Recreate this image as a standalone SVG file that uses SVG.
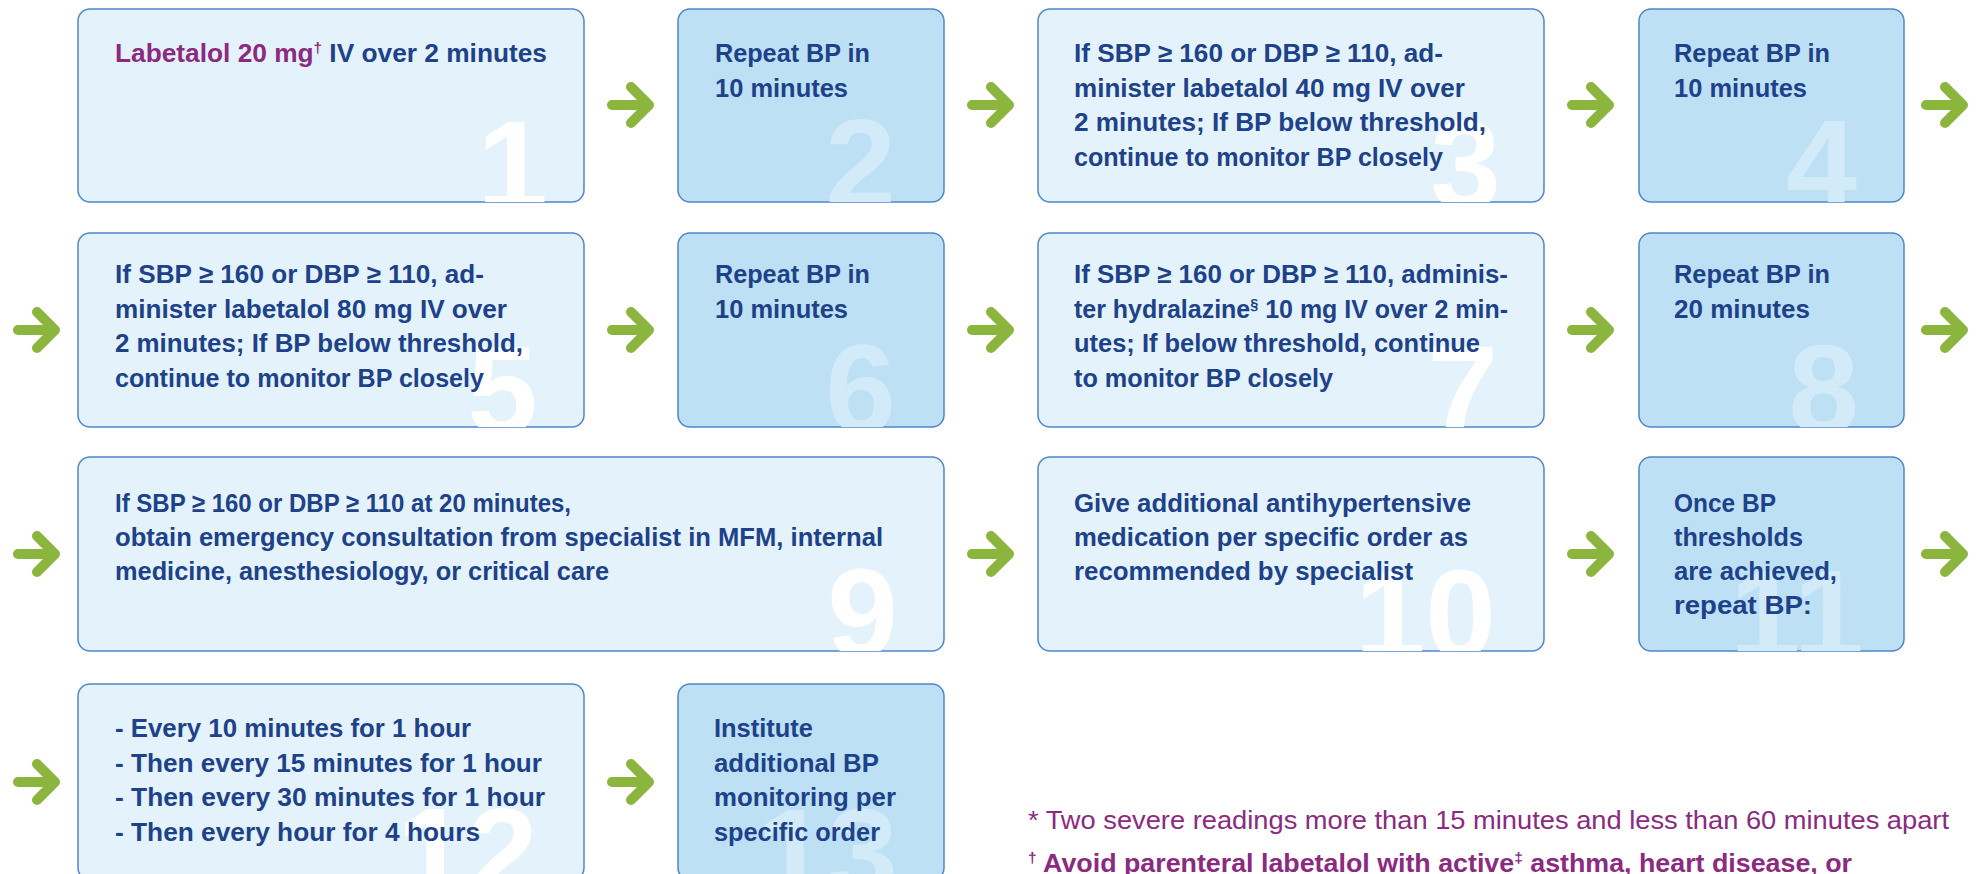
<svg xmlns="http://www.w3.org/2000/svg" width="1981" height="874" viewBox="0 0 1981 874">
<style>
.bl{fill:#e4f2fb;stroke:#4f86c8;stroke-width:1.5}
.bd{fill:#bde0f5;stroke:#4f86c8;stroke-width:1.5}
.t{font-family:"Liberation Sans",Arial,sans-serif;font-weight:bold;font-size:26px;fill:#1d4289}
.n{font-family:"Liberation Sans",Arial,sans-serif;font-weight:bold;font-size:127px;text-anchor:end}
.nl{fill:#ffffff}
.nd{fill:#d3eaf8}
.p{fill:#8b2a80}
.sup{font-size:15px}
.fn{font-family:"Liberation Sans",Arial,sans-serif;font-size:26px;fill:#8b2a80}
.arr{fill:none;stroke:#8cb53d;stroke-width:10;stroke-linecap:round;stroke-linejoin:round}
</style>
<defs>
<path id="arrow" class="arr" d="M-19,0 H18 M0,-18 L18,0 L0,18"/>
<clipPath id="c1"><rect x="78" y="9" width="506" height="193" rx="12"/></clipPath>
<clipPath id="c2"><rect x="678" y="9" width="266" height="193" rx="12"/></clipPath>
<clipPath id="c3"><rect x="1038" y="9" width="506" height="193" rx="12"/></clipPath>
<clipPath id="c4"><rect x="1639" y="9" width="265" height="193" rx="12"/></clipPath>
<clipPath id="c5"><rect x="78" y="233" width="506" height="194" rx="12"/></clipPath>
<clipPath id="c6"><rect x="678" y="233" width="266" height="194" rx="12"/></clipPath>
<clipPath id="c7"><rect x="1038" y="233" width="506" height="194" rx="12"/></clipPath>
<clipPath id="c8"><rect x="1639" y="233" width="265" height="194" rx="12"/></clipPath>
<clipPath id="c9"><rect x="78" y="457" width="866" height="194" rx="12"/></clipPath>
<clipPath id="c10"><rect x="1038" y="457" width="506" height="194" rx="12"/></clipPath>
<clipPath id="c11"><rect x="1639" y="457" width="265" height="194" rx="12"/></clipPath>
<clipPath id="c12"><rect x="78" y="684" width="506" height="196" rx="12"/></clipPath>
<clipPath id="c13"><rect x="678" y="684" width="266" height="196" rx="12"/></clipPath>
</defs>
<rect width="1981" height="874" fill="#ffffff"/>

<g id="connectors">
<use href="#arrow" x="631" y="105"/>
<use href="#arrow" x="991" y="105"/>
<use href="#arrow" x="1591" y="105"/>
<use href="#arrow" x="1945" y="105"/>
<use href="#arrow" x="37" y="330"/>
<use href="#arrow" x="631" y="330"/>
<use href="#arrow" x="991" y="330"/>
<use href="#arrow" x="1591" y="330"/>
<use href="#arrow" x="1945" y="330"/>
<use href="#arrow" x="37" y="554"/>
<use href="#arrow" x="991" y="554"/>
<use href="#arrow" x="1591" y="554"/>
<use href="#arrow" x="1945" y="554"/>
<use href="#arrow" x="37" y="782"/>
<use href="#arrow" x="631" y="782"/>
</g>

<g id="step1">
<rect class="bl" x="78" y="9" width="506" height="193" rx="12"/>
<text class="n nl" x="548" y="209" clip-path="url(#c1)">1</text>
<text class="t" x="115" y="62" textLength="432" lengthAdjust="spacingAndGlyphs"><tspan class="p">Labetalol 20 mg</tspan><tspan class="p sup" dy="-9">†</tspan><tspan dy="9"> IV over 2 minutes</tspan></text>
</g>

<g id="step2">
<rect class="bd" x="678" y="9" width="266" height="193" rx="12"/>
<text class="n nd" x="896" y="207" clip-path="url(#c2)">2</text>
<text class="t" x="715" y="62" textLength="155" lengthAdjust="spacingAndGlyphs">Repeat BP in</text>
<text class="t" x="715" y="96.5" textLength="133" lengthAdjust="spacingAndGlyphs">10 minutes</text>
</g>

<g id="step3">
<rect class="bl" x="1038" y="9" width="506" height="193" rx="12"/>
<text class="n nl" x="1501" y="209" clip-path="url(#c3)">3</text>
<text class="t" x="1074" y="62" textLength="369" lengthAdjust="spacingAndGlyphs">If SBP ≥ 160 or DBP ≥ 110, ad-</text>
<text class="t" x="1074" y="96.5" textLength="391" lengthAdjust="spacingAndGlyphs">minister labetalol 40 mg IV over</text>
<text class="t" x="1074" y="131" textLength="412" lengthAdjust="spacingAndGlyphs">2 minutes; If BP below threshold,</text>
<text class="t" x="1074" y="165.5" textLength="369" lengthAdjust="spacingAndGlyphs">continue to monitor BP closely</text>
</g>

<g id="step4">
<rect class="bd" x="1639" y="9" width="265" height="193" rx="12"/>
<text class="n nd" x="1857" y="208" clip-path="url(#c4)">4</text>
<text class="t" x="1674" y="62" textLength="156" lengthAdjust="spacingAndGlyphs">Repeat BP in</text>
<text class="t" x="1674" y="96.5" textLength="133" lengthAdjust="spacingAndGlyphs">10 minutes</text>
</g>

<g id="step5">
<rect class="bl" x="78" y="233" width="506" height="194" rx="12"/>
<text class="n nl" x="538" y="434" clip-path="url(#c5)">5</text>
<text class="t" x="115" y="283" textLength="369" lengthAdjust="spacingAndGlyphs">If SBP ≥ 160 or DBP ≥ 110, ad-</text>
<text class="t" x="115" y="317.5" textLength="392" lengthAdjust="spacingAndGlyphs">minister labetalol 80 mg IV over</text>
<text class="t" x="115" y="352" textLength="408" lengthAdjust="spacingAndGlyphs">2 minutes; If BP below threshold,</text>
<text class="t" x="115" y="386.5" textLength="369" lengthAdjust="spacingAndGlyphs">continue to monitor BP closely</text>
</g>

<g id="step6">
<rect class="bd" x="678" y="233" width="266" height="194" rx="12"/>
<text class="n nd" x="896" y="433" clip-path="url(#c6)">6</text>
<text class="t" x="715" y="283" textLength="155" lengthAdjust="spacingAndGlyphs">Repeat BP in</text>
<text class="t" x="715" y="317.5" textLength="133" lengthAdjust="spacingAndGlyphs">10 minutes</text>
</g>

<g id="step7">
<rect class="bl" x="1038" y="233" width="506" height="194" rx="12"/>
<text class="n nl" x="1498" y="434" clip-path="url(#c7)">7</text>
<text class="t" x="1074" y="283" textLength="434" lengthAdjust="spacingAndGlyphs">If SBP ≥ 160 or DBP ≥ 110, adminis-</text>
<text class="t" x="1074" y="317.5" textLength="434" lengthAdjust="spacingAndGlyphs">ter hydralazine<tspan class="sup" dy="-9">§</tspan><tspan dy="9"> 10 mg IV over 2 min-</tspan></text>
<text class="t" x="1074" y="352" textLength="406" lengthAdjust="spacingAndGlyphs">utes; If below threshold, continue</text>
<text class="t" x="1074" y="386.5" textLength="259" lengthAdjust="spacingAndGlyphs">to monitor BP closely</text>
</g>

<g id="step8">
<rect class="bd" x="1639" y="233" width="265" height="194" rx="12"/>
<text class="n nd" x="1859" y="433" clip-path="url(#c8)">8</text>
<text class="t" x="1674" y="283" textLength="156" lengthAdjust="spacingAndGlyphs">Repeat BP in</text>
<text class="t" x="1674" y="317.5" textLength="136" lengthAdjust="spacingAndGlyphs">20 minutes</text>
</g>

<g id="step9">
<rect class="bl" x="78" y="457" width="866" height="194" rx="12"/>
<text class="n nl" x="898" y="657" clip-path="url(#c9)">9</text>
<text class="t" x="115" y="512" textLength="456" lengthAdjust="spacingAndGlyphs">If SBP ≥ 160 or DBP ≥ 110 at 20 minutes,</text>
<text class="t" x="115" y="546" textLength="768" lengthAdjust="spacingAndGlyphs">obtain emergency consultation from specialist in MFM, internal</text>
<text class="t" x="115" y="580" textLength="494" lengthAdjust="spacingAndGlyphs">medicine, anesthesiology, or critical care</text>
</g>

<g id="step10">
<rect class="bl" x="1038" y="457" width="506" height="194" rx="12"/>
<text class="n nl" x="1496" y="658" clip-path="url(#c10)">10</text>
<text class="t" x="1074" y="512" textLength="397" lengthAdjust="spacingAndGlyphs">Give additional antihypertensive</text>
<text class="t" x="1074" y="546" textLength="394" lengthAdjust="spacingAndGlyphs">medication per specific order as</text>
<text class="t" x="1074" y="580" textLength="339" lengthAdjust="spacingAndGlyphs">recommended by specialist</text>
</g>

<g id="step11">
<rect class="bd" x="1639" y="457" width="265" height="194" rx="12"/>
<text class="n nd" x="1864" y="658" clip-path="url(#c11)">11</text>
<text class="t" x="1674" y="512" textLength="102" lengthAdjust="spacingAndGlyphs">Once BP</text>
<text class="t" x="1674" y="546" textLength="129" lengthAdjust="spacingAndGlyphs">thresholds</text>
<text class="t" x="1674" y="580" textLength="163" lengthAdjust="spacingAndGlyphs">are achieved,</text>
<text class="t" x="1674" y="614" textLength="138" lengthAdjust="spacingAndGlyphs">repeat BP:</text>
</g>

<g id="step12">
<rect class="bl" x="78" y="684" width="506" height="196" rx="12"/>
<text class="n nl" x="538" y="896" clip-path="url(#c12)">12</text>
<text class="t" x="115" y="737" textLength="356" lengthAdjust="spacingAndGlyphs">- Every 10 minutes for 1 hour</text>
<text class="t" x="115" y="771.5" textLength="427" lengthAdjust="spacingAndGlyphs">- Then every 15 minutes for 1 hour</text>
<text class="t" x="115" y="806" textLength="430" lengthAdjust="spacingAndGlyphs">- Then every 30 minutes for 1 hour</text>
<text class="t" x="115" y="840.5" textLength="365" lengthAdjust="spacingAndGlyphs">- Then every hour for 4 hours</text>
</g>

<g id="step13">
<rect class="bd" x="678" y="684" width="266" height="196" rx="12"/>
<text class="n nd" x="898" y="897" clip-path="url(#c13)">13</text>
<text class="t" x="714" y="737" textLength="99" lengthAdjust="spacingAndGlyphs">Institute</text>
<text class="t" x="714" y="771.5" textLength="165" lengthAdjust="spacingAndGlyphs">additional BP</text>
<text class="t" x="714" y="806" textLength="182" lengthAdjust="spacingAndGlyphs">monitoring per</text>
<text class="t" x="714" y="840.5" textLength="166" lengthAdjust="spacingAndGlyphs">specific order</text>
</g>

<g id="footnotes">
<text class="fn" x="1028" y="829" textLength="921" lengthAdjust="spacingAndGlyphs">* Two severe readings more than 15 minutes and less than 60 minutes apart</text>
<text class="fn" x="1028" y="872" font-weight="bold" textLength="824" lengthAdjust="spacingAndGlyphs"><tspan class="sup" dy="-9">†</tspan><tspan dy="9"> Avoid parenteral labetalol with active</tspan><tspan class="sup" dy="-9">‡</tspan><tspan dy="9"> asthma, heart disease, or</tspan></text>
</g>
</svg>
